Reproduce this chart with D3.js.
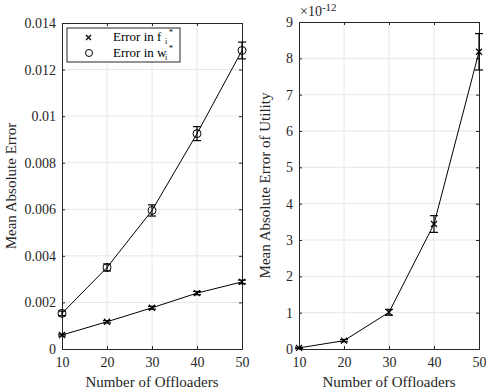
<!DOCTYPE html>
<html>
<head>
<meta charset="utf-8">
<script src="https://cdn.jsdelivr.net/npm/d3@7"></script>
</head>
<body style="margin:0">
<div id="chart"></div>
<script>
// data
const offloaders = [10, 20, 30, 40, 50];
const errF = [0.0006, 0.00117, 0.00177, 0.0024, 0.00288];
const errFBar = [0.00004, 0.00005, 0.00006, 0.00007, 0.00008];
const errW = [0.00153, 0.0035, 0.00595, 0.00925, 0.01282];
const errWBar = [0.0001, 0.00015, 0.00024, 0.0003, 0.00036];
const utilErr = [0.03, 0.23, 1.01, 3.44, 8.18];
const utilErrBar = [0.02, 0.03, 0.08, 0.23, 0.5];
const leftTicks = [0, 0.002, 0.004, 0.006, 0.008, 0.01, 0.012, 0.014];
const rightTicks = [0, 1, 2, 3, 4, 5, 6, 7, 8, 9];

const W = 486, H = 391;
const axisColor = '#262626';
const gridColor = '#e6e6e6';
const FONT = '"Liberation Serif"';

const svg = d3.select('#chart').append('svg')
    .attr('width', W)
    .attr('height', H);

function drawPanel(opts) {
    const x = d3.scaleLinear().domain([10, 50]).range([opts.left, opts.right]);
    const y = d3.scaleLinear().domain(opts.yDomain).range([opts.bottom, opts.top]);
    const g = svg.append('g');

    // grid
    g.selectAll('.vgrid').data(offloaders.slice(1, -1)).enter().append('line')
        .attr('x1', d => x(d)).attr('x2', d => x(d))
        .attr('y1', opts.top).attr('y2', opts.bottom)
        .style('stroke', gridColor);
    g.selectAll('.hgrid').data(opts.ticks.slice(1, -1)).enter().append('line')
        .attr('y1', d => y(d)).attr('y2', d => y(d))
        .attr('x1', opts.left).attr('x2', opts.right)
        .style('stroke', gridColor);

    // axes with inward ticks, box on all sides
    const xAxis = d3.axisBottom(x).tickValues(offloaders).tickSize(-3).tickPadding(8);
    const xTop = d3.axisTop(x).tickValues(offloaders).tickSize(-3).tickFormat('');
    const yAxis = d3.axisLeft(y).tickValues(opts.ticks).tickSize(-3).tickPadding(6).tickFormat(opts.fmt);
    const yRight = d3.axisRight(y).tickValues(opts.ticks).tickSize(-3).tickFormat('');

    g.append('g').attr('transform', 'translate(0,' + opts.bottom + ')').call(xAxis);
    g.append('g').attr('transform', 'translate(0,' + opts.top + ')').call(xTop);
    g.append('g').attr('transform', 'translate(' + opts.left + ',0)').call(yAxis);
    g.append('g').attr('transform', 'translate(' + opts.right + ',0)').call(yRight);
    g.selectAll('.domain').style('stroke', axisColor);
    g.selectAll('.tick line').style('stroke', axisColor);
    g.selectAll('.tick text')
        .style('font-family', FONT)
        .style('font-size', '14px')
        .style('fill', axisColor);

    // axis labels
    g.append('text')
        .attr('x', (opts.left + opts.right) / 2)
        .attr('y', 387)
        .attr('text-anchor', 'middle')
        .style('font-family', FONT)
        .style('font-size', '15px')
        .style('fill', axisColor)
        .text('Number of Offloaders');
    g.append('text')
        .attr('transform', 'translate(' + opts.ylabelX + ',' + ((opts.top + opts.bottom) / 2) + ') rotate(-90)')
        .attr('text-anchor', 'middle')
        .style('font-family', FONT)
        .style('font-size', '15px')
        .style('fill', axisColor)
        .text(opts.ylabel);

    return {g, x, y};
}

function drawSeries(p, vals, bars, marker) {
    const line = d3.line().x((d, i) => p.x(offloaders[i])).y(d => p.y(d));
    p.g.append('path').datum(vals)
        .attr('d', line)
        .style('fill', 'none')
        .style('stroke', '#000')
        .style('stroke-width', 1);

    const eb = p.g.selectAll(null).data(vals).enter().append('g');
    eb.append('line')
        .attr('x1', (d, i) => p.x(offloaders[i])).attr('x2', (d, i) => p.x(offloaders[i]))
        .attr('y1', (d, i) => p.y(d - bars[i])).attr('y2', (d, i) => p.y(d + bars[i]));
    eb.append('line')
        .attr('x1', (d, i) => p.x(offloaders[i]) - 4).attr('x2', (d, i) => p.x(offloaders[i]) + 4)
        .attr('y1', (d, i) => p.y(d - bars[i])).attr('y2', (d, i) => p.y(d - bars[i]));
    eb.append('line')
        .attr('x1', (d, i) => p.x(offloaders[i]) - 4).attr('x2', (d, i) => p.x(offloaders[i]) + 4)
        .attr('y1', (d, i) => p.y(d + bars[i])).attr('y2', (d, i) => p.y(d + bars[i]));
    eb.selectAll('line').style('stroke', '#000').style('stroke-width', 1.2);

    if (marker === 'circle') {
        p.g.selectAll(null).data(vals).enter().append('circle')
            .attr('cx', (d, i) => p.x(offloaders[i]))
            .attr('cy', d => p.y(d))
            .attr('r', 4)
            .style('fill', 'none')
            .style('stroke', '#000');
    } else {
        p.g.selectAll(null).data(vals).enter().append('path')
            .attr('transform', (d, i) => 'translate(' + p.x(offloaders[i]) + ',' + p.y(d) + ')')
            .attr('d', 'M-3,-3L3,3M-3,3L3,-3')
            .style('stroke', '#000')
            .style('stroke-width', 1.2);
    }
}

// left panel
const left = drawPanel({
    left: 62, right: 242, top: 23, bottom: 349,
    yDomain: [0, 0.014], ticks: leftTicks,
    fmt: d => d === 0 ? '0' : String(+d.toFixed(3)),
    ylabel: 'Mean Absolute Error', ylabelX: 16
});
drawSeries(left, errF, errFBar, 'cross');
drawSeries(left, errW, errWBar, 'circle');

// legend
const leg = left.g.append('g');
leg.append('rect')
    .attr('x', 67).attr('y', 28).attr('width', 113).attr('height', 34)
    .style('fill', '#fff').style('stroke', axisColor);
leg.append('path')
    .attr('d', 'M86,35L91,40M86,40L91,35')
    .style('stroke', '#000').style('stroke-width', 1.2);
leg.append('circle').attr('cx', 89).attr('cy', 53).attr('r', 3.5)
    .style('fill', 'none').style('stroke', '#000');
const legendSeries = [{sym: 'f', y: 41}, {sym: 'w', y: 57}];
legendSeries.forEach(s => {
    leg.append('text').attr('x', 113).attr('y', s.y)
        .style('font-family', FONT)
        .style('font-size', '13px').style('fill', '#000')
        .text('Error in ' + s.sym);
    leg.append('text').attr('x', 165).attr('y', s.y + 3)
        .style('font-family', FONT)
        .style('font-size', '8px').style('fill', '#000')
        .text('i');
    leg.append('text').attr('x', 169).attr('y', s.y - 6)
        .style('font-family', FONT)
        .style('font-size', '8px').style('fill', '#000')
        .text('*');
});

// right panel
const right = drawPanel({
    left: 299, right: 479, top: 22, bottom: 349,
    yDomain: [0, 9], ticks: rightTicks,
    fmt: d3.format('d'),
    ylabel: 'Mean Absolute Error of Utility', ylabelX: 270
});
drawSeries(right, utilErr, utilErrBar, 'cross');

// exponent label
const expo = right.g.append('text').attr('x', 300).attr('y', 16)
    .style('font-family', FONT)
    .style('font-size', '14px').style('fill', axisColor);
expo.append('tspan').text('\u00d710');
expo.append('tspan').attr('dy', -5).style('font-size', '11px').text('-12');
</script>
</body>
</html>
